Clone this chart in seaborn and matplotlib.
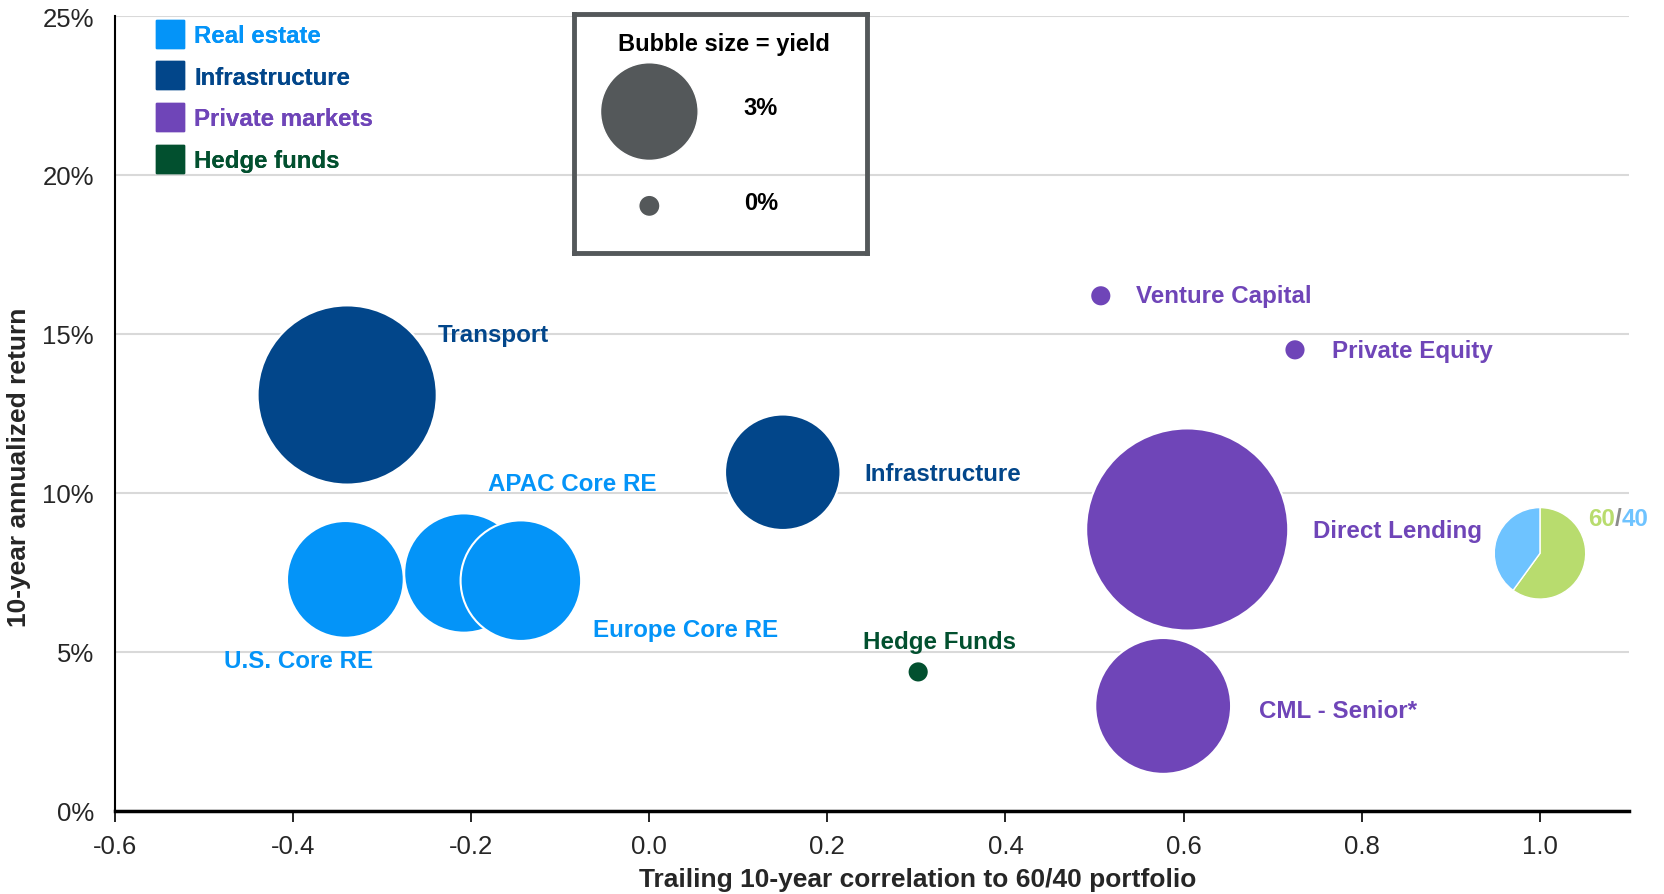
import pandas as pd
import matplotlib
matplotlib.use('Agg')
import matplotlib.pyplot as plt
from matplotlib.lines import Line2D
import seaborn as sns

# Данные
names = ['U.S. Core RE', 'APAC Core RE', 'Europe Core RE', 'Transport', 'Infrastructure',
         'Hedge Funds', 'Venture Capital', 'Private Equity', 'Direct Lending', 'CML - Senior*']
groups = ['Real estate', 'Real estate', 'Real estate', 'Infrastructure', 'Infrastructure',
          'Hedge funds', 'Private markets', 'Private markets', 'Private markets', 'Private markets']
correlation = [-0.341, -0.208, -0.144, -0.339, 0.150, 0.302, 0.507, 0.725, 0.604, 0.577]
annual_return = [7.28, 7.48, 7.24, 13.08, 10.65, 4.37, 16.2, 14.5, 8.85, 3.3]
yields = [3.75, 3.85, 3.9, 6.2, 3.7, 0.0, 0.0, 0.0, 7.1, 4.5]

portfolio_corr = 1.0
portfolio_return = 8.1
portfolio_yield = 2.83
portfolio_mix = [60, 40]

legend_groups = ['Real estate', 'Infrastructure', 'Private markets', 'Hedge funds']
size_legend_yields = [3, 0]

# Оформление
colors = {'Real estate': '#0494F8', 'Infrastructure': '#02468A',
          'Private markets': '#6F45B8', 'Hedge funds': '#02502F'}
mix_colors = ['#B8DC6E', '#6EC3FF']
box_gray = '#54585A'
LBL = 17.4

# положения подписей (данные-координаты левого края)
label_xy = {'Transport': (-0.237, 14.99), 'APAC Core RE': (-0.181, 10.31),
            'Europe Core RE': (-0.063, 5.71), 'U.S. Core RE': (-0.477, 4.74),
            'Infrastructure': (0.242, 10.61), 'Hedge Funds': (0.240, 5.34),
            'Venture Capital': (0.547, 16.22), 'Private Equity': (0.766, 14.49),
            'Direct Lending': (0.745, 8.81), 'CML - Senior*': (0.685, 3.17)}


def radius_pt(y):
    # радиус растёт линейно с доходностью
    return 7.64 + 9.17 * y


def bubble_area(y):
    return (2 * radius_pt(y)) ** 2


sns.set_style('white')
plt.rcParams['font.family'] = ['Liberation Sans', 'DejaVu Sans']

df = pd.DataFrame({'name': names, 'group': groups, 'corr': correlation,
                   'ret': annual_return, 'yld': yields})

fig = plt.figure(figsize=(16.64, 8.95), dpi=100)
ax = fig.add_axes([0.0689, 0.0929, 0.9101, 0.8881])

sns.scatterplot(data=df, x='corr', y='ret', hue='group', palette=colors,
                size='yld', sizes={v: bubble_area(v) for v in set(yields)},
                edgecolor='white', linewidth=1.5, alpha=1, legend=False, ax=ax, zorder=3)

for n, g in zip(names, groups):
    lx, ly = label_xy[n]
    ax.text(lx, ly, n, color=colors[g], fontsize=LBL, fontweight='bold',
            ha='left', va='center', zorder=4)

# оси
ax.set_xlim(-0.6, 1.1)
ax.set_ylim(0, 25)
ax.set_xticks([-0.6, -0.4, -0.2, 0.0, 0.2, 0.4, 0.6, 0.8, 1.0])
ax.set_xticklabels(['-0.6', '-0.4', '-0.2', '0.0', '0.2', '0.4', '0.6', '0.8', '1.0'])
ax.set_yticks([0, 5, 10, 15, 20, 25])
ax.set_yticklabels([f'{v}%' for v in [0, 5, 10, 15, 20, 25]])
ax.tick_params(axis='x', direction='out', length=8, width=1.2, color='black',
               labelsize=18.5, pad=9, bottom=True)
ax.tick_params(axis='y', length=0, labelsize=18.5, pad=15)
ax.yaxis.grid(True, color='#D9D9D9', linewidth=1.5)
ax.set_axisbelow(True)
for s in ['top', 'right']:
    ax.spines[s].set_visible(False)
ax.spines['left'].set_color('black')
ax.spines['left'].set_linewidth(1.5)
ax.spines['bottom'].set_color('black')
ax.spines['bottom'].set_linewidth(2.5)
ax.set_xlabel('Trailing 10-year correlation to 60/40 portfolio', fontsize=19,
              fontweight='bold')
ax.set_ylabel('10-year annualized return', fontsize=19, fontweight='bold')
ax.xaxis.set_label_coords(0.5305, -0.071)
ax.yaxis.set_label_coords(-0.0555, 0.434)

# круговая диаграмма 60/40
r_px = radius_pt(portfolio_yield) / 72 * fig.dpi
inv = ax.transData.inverted()
cx, cy = ax.transData.transform((portfolio_corr, portfolio_return))
(x0, y0) = inv.transform((cx - r_px, cy - r_px))
(x1, y1) = inv.transform((cx + r_px, cy + r_px))
pax = ax.inset_axes([x0, y0, x1 - x0, y1 - y0], transform=ax.transData)
pax.pie(portfolio_mix, colors=mix_colors, startangle=90, counterclock=False,
        wedgeprops=dict(edgecolor='white', linewidth=1))
pax.set_xlim(-1.02, 1.02)
pax.set_ylim(-1.02, 1.02)
pax.set_aspect('equal')
pax.axis('off')

t1 = ax.text(1.054, 9.18, '60', color=mix_colors[0], fontsize=LBL, fontweight='bold',
             ha='left', va='center', zorder=4)
t2 = ax.annotate('/', xy=(1, 0), xycoords=t1, va='bottom', ha='left',
                 color='#8C8C8C', fontsize=LBL, fontweight='bold')
ax.annotate('40', xy=(1, 0), xycoords=t2, va='bottom', ha='left',
            color=mix_colors[1], fontsize=LBL, fontweight='bold')

# легенда групп
handles = [Line2D([], [], marker='s', linestyle='', markersize=20, color=colors[g])
           for g in legend_groups]
leg = ax.legend(handles, legend_groups, loc='upper left', bbox_to_anchor=(0.0287, 0.99),
                frameon=False, borderaxespad=0, borderpad=0, handlelength=1.0,
                handletextpad=0.5, labelspacing=0.78,
                prop={'size': 17.3, 'weight': 'bold'},
                labelcolor=[colors[g] for g in legend_groups])
ax.add_artist(leg)

# легенда размера пузырей
lax = fig.add_axes([0.345, 0.7166, 0.176, 0.2667])
lax.set_facecolor('none')
lax.set_xlim(0, 1)
lax.set_ylim(0, 1)
lax.set_xticks([])
lax.set_yticks([])
for s in lax.spines.values():
    s.set_color(box_gray)
    s.set_linewidth(3.5)
sdf = pd.DataFrame({'x': [0.257, 0.257], 'y': [0.591, 0.196], 'yld': size_legend_yields})
sns.scatterplot(data=sdf, x='x', y='y', size='yld',
                sizes={v: bubble_area(v) for v in size_legend_yields},
                color=box_gray, edgecolor='white', linewidth=1, legend=False, ax=lax)
lax.set_xlabel('')
lax.set_ylabel('')
lax.text(0.511, 0.876, 'Bubble size = yield', ha='center', va='center',
         fontsize=17, fontweight='bold', color='black')
for yv, yy in zip(size_legend_yields, [0.609, 0.209]):
    lax.text(0.638, yy, f'{yv}%', ha='center', va='center', fontsize=17,
             fontweight='bold', color='black')

fig.savefig('out.png', dpi=100)
